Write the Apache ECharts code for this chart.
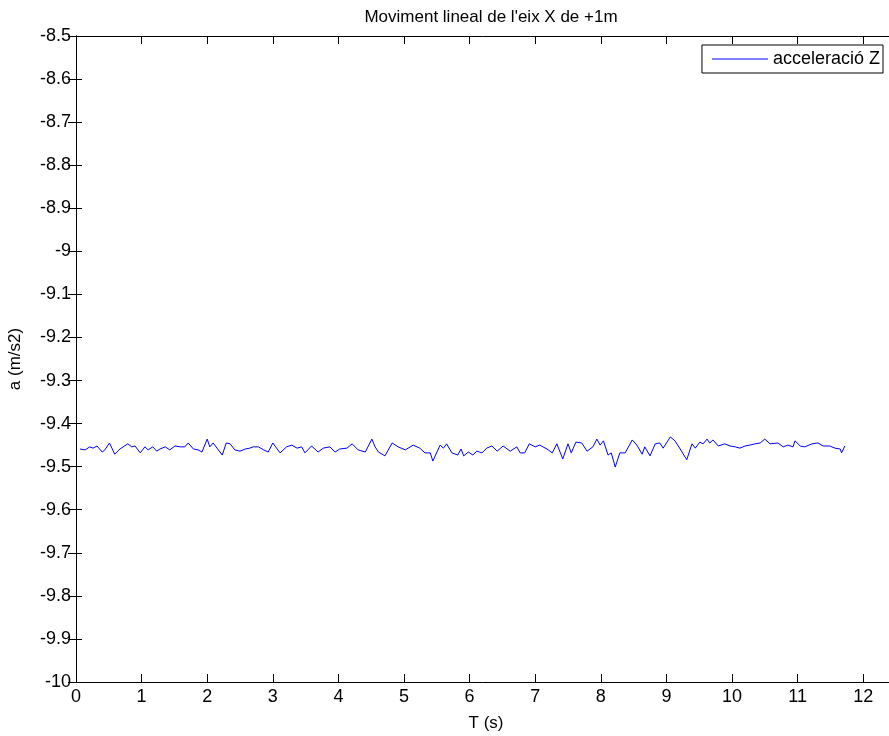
<!DOCTYPE html>
<html lang="ca">
<head>
    <meta charset="UTF-8">
    <title>Moviment lineal de l'eix X de +1m</title>
    <style>
        html, body { margin: 0; padding: 0; background: #fff; }
        #main { width: 889px; height: 736px; }
    </style>
</head>
<body>
<div id="main"></div>
<script src="https://cdn.jsdelivr.net/npm/echarts@6/dist/echarts.min.js"></script>
<script>
    // temps (s)
    var times = [
        0.06, 0.14, 0.21, 0.26, 0.32, 0.40, 0.44, 0.51, 0.59, 0.67, 0.72, 0.79, 0.85, 0.90, 0.98,
        1.05, 1.10, 1.17, 1.23, 1.28, 1.36, 1.43, 1.51, 1.59, 1.66, 1.71, 1.79, 1.86, 1.92,
        2.00, 2.04, 2.09, 2.15, 2.23, 2.29, 2.35, 2.42, 2.50, 2.58, 2.65, 2.70, 2.78, 2.86, 2.93,
        3.00, 3.11, 3.21, 3.29, 3.37, 3.44, 3.49, 3.59, 3.69, 3.77, 3.87, 3.95,
        4.02, 4.13, 4.21, 4.30, 4.41, 4.51, 4.56, 4.61, 4.71, 4.82, 4.91,
        5.02, 5.14, 5.24, 5.32, 5.40, 5.44, 5.55, 5.60, 5.65, 5.73, 5.82, 5.87, 5.91, 5.98,
        6.05, 6.11, 6.19, 6.26, 6.34, 6.42, 6.51, 6.62, 6.72, 6.77, 6.84, 6.91,
        7.00, 7.07, 7.18, 7.26, 7.33, 7.42, 7.50, 7.55, 7.62, 7.71, 7.79, 7.88, 7.94, 7.99,
        8.04, 8.11, 8.16, 8.22, 8.29, 8.37, 8.48, 8.55, 8.63, 8.67, 8.75, 8.83, 8.90, 8.95,
        9.06, 9.13, 9.21, 9.31, 9.39, 9.44, 9.51, 9.56, 9.62, 9.66, 9.71, 9.79, 9.89, 9.97,
        10.05, 10.12, 10.20, 10.27, 10.35, 10.43, 10.50, 10.58, 10.70, 10.78, 10.85, 10.93, 10.96,
        11.04, 11.11, 11.22, 11.31, 11.39, 11.49, 11.57, 11.65, 11.67, 11.72
    ];

    // acceleració Z (m/s2)
    var accelZ = [
        -9.459, -9.461, -9.454, -9.457, -9.452, -9.466, -9.461, -9.445, -9.471, -9.459, -9.454, -9.447, -9.454, -9.452, -9.468,
        -9.454, -9.461, -9.454, -9.464, -9.459, -9.454, -9.461, -9.452, -9.454, -9.454, -9.445, -9.459, -9.461, -9.466,
        -9.436, -9.454, -9.445, -9.457, -9.473, -9.445, -9.447, -9.461, -9.464, -9.459, -9.457, -9.454, -9.454, -9.461, -9.466,
        -9.445, -9.468, -9.454, -9.450, -9.457, -9.454, -9.468, -9.452, -9.466, -9.457, -9.454, -9.466,
        -9.459, -9.457, -9.447, -9.461, -9.466, -9.436, -9.454, -9.466, -9.475, -9.445, -9.454,
        -9.461, -9.450, -9.457, -9.468, -9.468, -9.487, -9.450, -9.457, -9.447, -9.468, -9.473, -9.459, -9.475, -9.466,
        -9.473, -9.464, -9.468, -9.457, -9.452, -9.464, -9.452, -9.464, -9.454, -9.468, -9.468, -9.447,
        -9.454, -9.450, -9.459, -9.468, -9.447, -9.482, -9.447, -9.468, -9.443, -9.445, -9.464, -9.454, -9.436, -9.450,
        -9.440, -9.473, -9.468, -9.501, -9.468, -9.468, -9.438, -9.450, -9.471, -9.454, -9.475, -9.447, -9.445, -9.457,
        -9.431, -9.440, -9.459, -9.484, -9.447, -9.457, -9.443, -9.447, -9.436, -9.445, -9.438, -9.452, -9.447, -9.452,
        -9.454, -9.457, -9.452, -9.450, -9.447, -9.445, -9.436, -9.447, -9.445, -9.454, -9.450, -9.454, -9.440,
        -9.452, -9.454, -9.447, -9.445, -9.452, -9.452, -9.457, -9.459, -9.468, -9.452
    ];

    var seriesName = 'acceleració Z';

    var chart = echarts.init(document.getElementById('main'));
    var points = times.map(function (t, i) { return [t, accelZ[i]]; });

    var font = 'Liberation Sans, Arial, sans-serif';
    var axisBlack = { lineStyle: { color: '#000', width: 1 } };

    var option = {
        backgroundColor: '#fff',
        animation: false,
        title: {
            text: "Moviment lineal de l'eix X de +1m",
            left: 486,
            textAlign: 'center',
            top: 4,
            textStyle: { fontFamily: font, fontSize: 17, fontWeight: 'normal', color: '#000' }
        },
        legend: {
            data: [{ name: seriesName, icon: 'rect' }],
            right: 6,
            top: 45,
            padding: [5, 3, 5, 10],
            itemWidth: 56,
            itemHeight: 1,
            borderColor: '#000',
            borderWidth: 1,
            backgroundColor: '#fff',
            textStyle: { fontFamily: font, fontSize: 18, color: '#000' }
        },
        grid: { left: 76, top: 36, width: 820, height: 646, outerBoundsMode: 'none' },
        xAxis: [{
            type: 'value',
            min: 0,
            max: 12.5,
            interval: 1,
            name: 'T (s)',
            nameLocation: 'middle',
            nameGap: 33,
            nameTextStyle: { fontFamily: font, fontSize: 17, color: '#000' },
            axisLine: axisBlack,
            axisTick: { inside: true, length: 8, lineStyle: { color: '#000' } },
            axisLabel: {
                fontFamily: font, fontSize: 18, color: '#000', margin: 6,
                showMaxLabel: false
            },
            splitLine: { show: false }
        }, {
            type: 'value',
            position: 'top',
            min: 0,
            max: 12.5,
            interval: 1,
            axisLine: axisBlack,
            axisTick: { inside: true, length: 8, lineStyle: { color: '#000' } },
            axisLabel: { show: false },
            splitLine: { show: false }
        }],
        yAxis: [{
            type: 'value',
            min: -10,
            max: -8.5,
            interval: 0.1,
            name: 'a (m/s2)',
            nameLocation: 'middle',
            nameGap: 52,
            nameTextStyle: { fontFamily: font, fontSize: 17, color: '#000' },
            axisLine: axisBlack,
            axisTick: { inside: true, length: 6, lineStyle: { color: '#000' } },
            axisLabel: { fontFamily: font, fontSize: 18, color: '#000', margin: 5 },
            splitLine: { show: false }
        }, {
            type: 'value',
            position: 'right',
            min: -10,
            max: -8.5,
            interval: 0.1,
            axisLine: axisBlack,
            axisTick: { inside: true, length: 8, lineStyle: { color: '#000' } },
            axisLabel: { show: false },
            splitLine: { show: false }
        }],
        series: [{
            name: seriesName,
            type: 'line',
            xAxisIndex: 0,
            yAxisIndex: 0,
            symbol: 'none',
            lineStyle: { color: '#0000ff', width: 1 },
            itemStyle: { color: '#0000ff' },
            data: points
        }]
    };

    chart.setOption(option);
</script>
</body>
</html>
